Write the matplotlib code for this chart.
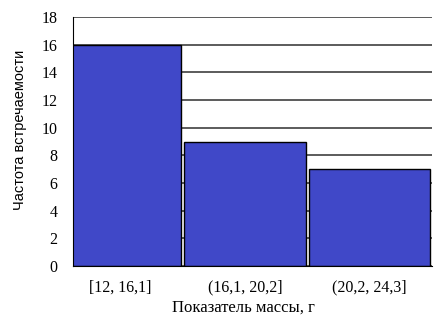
import matplotlib.pyplot as plt
import numpy as np

intervals = ['[12, 16,1]', '(16,1, 20,2]', '(20,2, 24,3]']
frequency = [16, 9, 7]

plt.rcParams['font.family'] = 'Liberation Serif'

fig = plt.figure(figsize=(4.38, 3.19), dpi=100)
ax = fig.add_axes([73/438, 1 - 266/319, (432-73)/438, (266-17)/319])

x = np.arange(len(intervals))
ax.bar(x, frequency, width=0.975, color='#4048C8', edgecolor='black', linewidth=1, zorder=2)

ax.set_ylim(0, 18)
ax.set_yticks(np.arange(0, 19, 2))
ax.set_xlim(-0.38, 2.50)
ax.set_xticks(x)
ax.set_xticklabels(intervals)
ax.yaxis.grid(True, color='#404040', linewidth=1.2, zorder=1)
ax.tick_params(axis='both', length=0, labelsize=11.5)
ax.tick_params(axis='y', pad=11)
ax.tick_params(axis='x', pad=10)
for side in ['top', 'right']:
    ax.spines[side].set_visible(False)
ax.spines['left'].set_color('black')
ax.spines['bottom'].set_color('black')

ax.set_xlabel('Показатель массы, г', fontsize=12)
ax.xaxis.set_label_coords(0.4735, -0.135)
ax.set_ylabel('Частота встречаемости', fontsize=10.5, family='Liberation Sans')
ax.yaxis.set_label_coords(-0.128, 0.546)

fig.savefig('out.png', dpi=100)
